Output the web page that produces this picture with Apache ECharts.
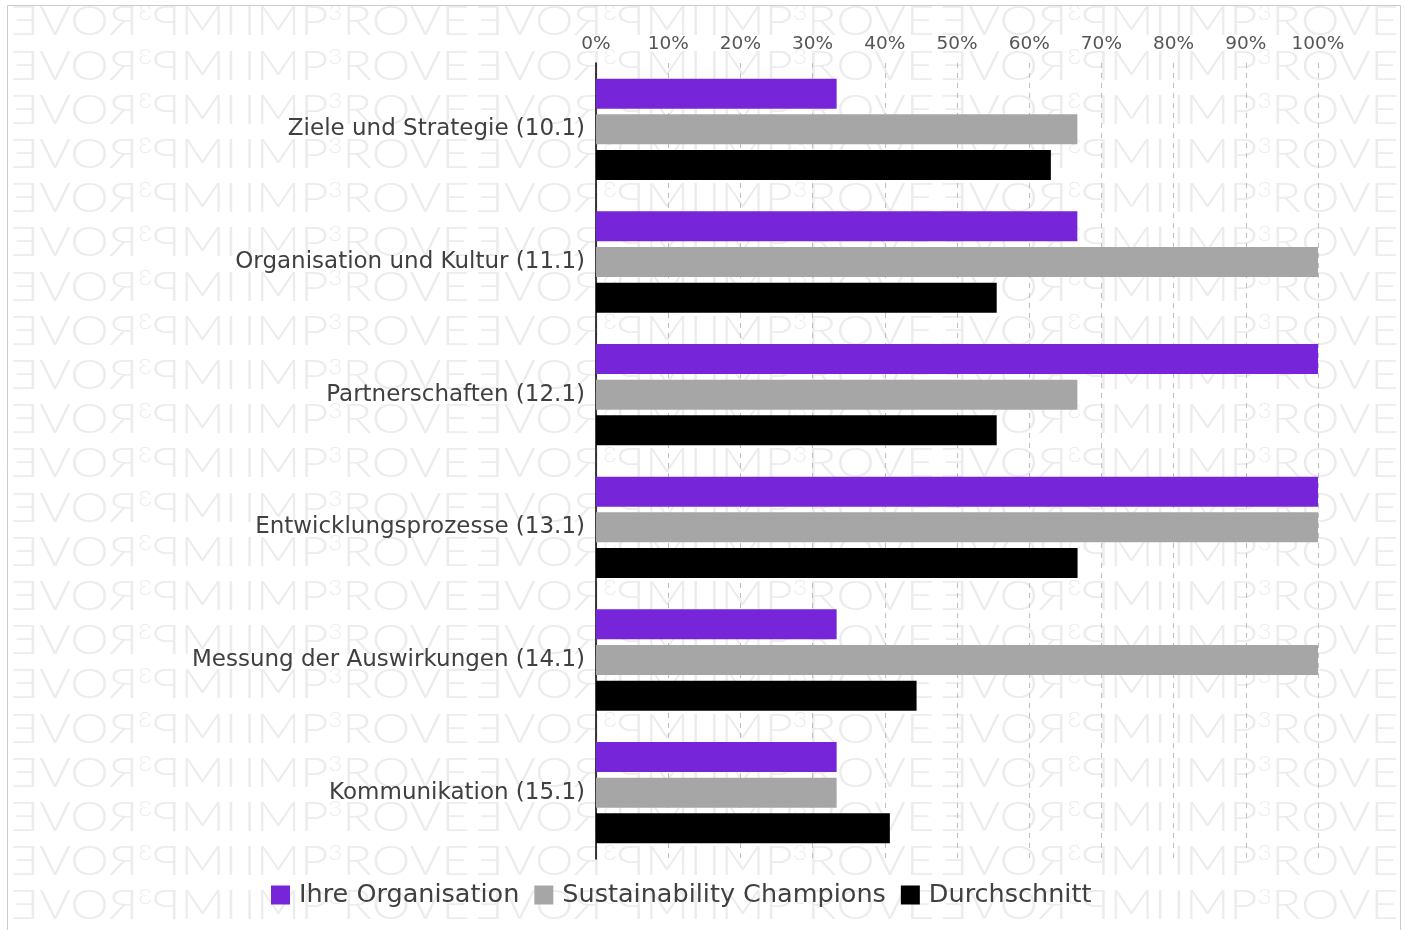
<!DOCTYPE html>
<html>
<head>
<meta charset="utf-8">
<style>
html,body{margin:0;padding:0;background:#fff;}
#chart{width:1406px;height:930px;}
</style>
<script src="https://cdn.jsdelivr.net/npm/echarts@6/dist/echarts.min.js"></script>
</head>
<body>
<div id="chart"></div>
<script>
const categories = [
  'Ziele und Strategie (10.1)',
  'Organisation und Kultur (11.1)',
  'Partnerschaften (12.1)',
  'Entwicklungsprozesse (13.1)',
  'Messung der Auswirkungen (14.1)',
  'Kommunikation (15.1)'
];
const seriesNames = ['Ihre Organisation', 'Sustainability Champions', 'Durchschnitt'];
const ihreOrganisation = [33.33, 66.67, 100, 100, 33.33, 33.33];
const sustainabilityChampions = [66.67, 100, 66.67, 100, 100, 33.33];
const durchschnitt = [63.0, 55.5, 55.5, 66.7, 44.4, 40.7];
const wmA = 'IMP', wmSup = '3', wmB = 'ROVE';

const FONT = 'DejaVu Sans';
const wmFont = '300 38px Lato, "Open Sans", sans-serif';
const wmSupFont = '300 19px Lato, "Open Sans", sans-serif';
const cv = document.createElement('canvas').getContext('2d');
cv.font = wmFont;
let wmWidth = cv.measureText(wmA + wmB).width;
cv.font = wmSupFont;
wmWidth += cv.measureText(wmSup).width;
if (!wmWidth) wmWidth = 180;
const tileW = 232.3, tileStart = 8, rowH = 44.2, rowStart = 0;
const sx = (tileW - 6) / wmWidth;

const graphics = [];
for (let c = 0; c < 6; c++) {
  const x0 = tileStart + c * tileW;
  const mirrored = c % 2 === 0;
  for (let r = 0; r < 22; r++) {
    const y = rowStart + r * rowH;
    graphics.push({
      type: 'text',
      silent: true,
      z: -10,
      x: mirrored ? x0 + tileW - 3 : x0 + 3,
      y: y,
      scaleX: mirrored ? -sx : sx,
      scaleY: 1.1,
      style: {
        text: '{a|' + wmA + '}{s|' + wmSup + '}{a|' + wmB + '}',
        rich: {
          a: {font: wmFont, fill: '#ececec', lineHeight: 40},
          s: {font: wmSupFont, fill: '#ececec', lineHeight: 40, padding: [0, 0, 16, 0]}
        },
        textAlign: 'left',
        textVerticalAlign: 'top'
      }
    });
  }
}
graphics.push({
  type: 'rect', silent: true, z: -5,
  shape: {x: 7.5, y: 5.5, width: 1393, height: 940},
  style: {fill: 'none', stroke: '#cccccc', lineWidth: 1}
});

const colors = ['#7625d9', '#a6a6a6', '#000000'];
const dataSets = [ihreOrganisation, sustainabilityChampions, durchschnitt];

const chart = echarts.init(document.getElementById('chart'), null, {renderer: 'canvas'});
chart.setOption({
  backgroundColor: '#ffffff',
  animation: false,
  textStyle: {fontFamily: FONT},
  graphic: graphics,
  legend: {
    bottom: 17,
    left: 266,
    itemWidth: 19,
    itemHeight: 19,
    itemGap: 15,
    icon: 'rect',
    textStyle: {fontSize: 25.5, color: '#404040', fontFamily: FONT, padding: [0, 0, 0, 4]},
    data: seriesNames
  },
  grid: {left: 596, right: 88, top: 63, bottom: 71, containLabel: false},
  xAxis: {
    type: 'value',
    position: 'top',
    min: 0,
    max: 100,
    interval: 10,
    axisLine: {show: false},
    axisTick: {show: false},
    axisLabel: {formatter: '{value}%', fontSize: 18.5, color: '#555555', margin: 9, fontFamily: FONT},
    splitLine: {show: true, lineStyle: {type: [5, 5], color: '#bdbdbd', width: 1}}
  },
  yAxis: {
    type: 'category',
    inverse: true,
    data: categories,
    axisLine: {show: true, lineStyle: {color: '#000000', width: 1.5}},
    axisTick: {show: false},
    axisLabel: {fontSize: 23, color: '#404040', margin: 11, fontFamily: FONT}
  },
  series: seriesNames.map((name, i) => ({
    name: name,
    type: 'bar',
    data: dataSets[i],
    barWidth: 30,
    barGap: '19%',
    itemStyle: {color: colors[i]}
  }))
});
</script>
</body>
</html>
